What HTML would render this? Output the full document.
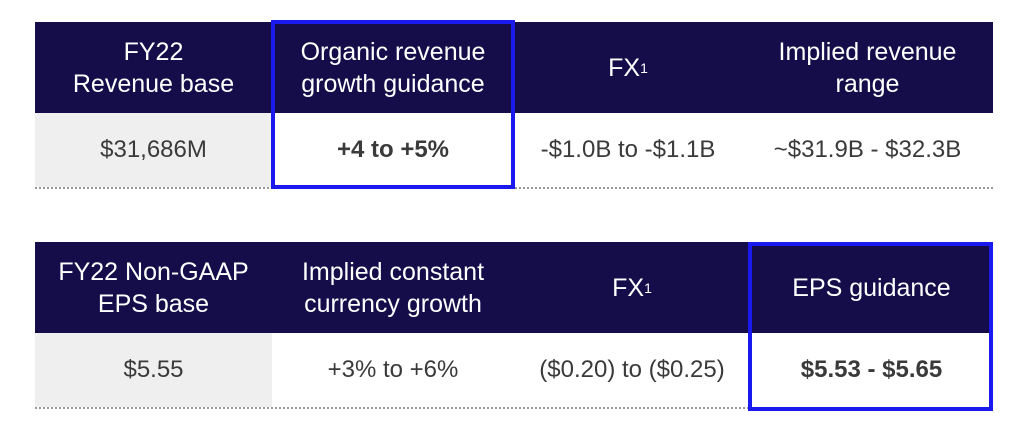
<!DOCTYPE html>
<html><head><meta charset="utf-8"><style>
body{margin:0;width:1031px;height:442px;background:#fff;position:relative;overflow:hidden;font-family:"Liberation Sans",sans-serif}
.a{position:absolute;box-sizing:border-box;display:flex;align-items:center;justify-content:center;text-align:center}
.h{background:#150d4a;color:#fff;font-size:25px;line-height:32px}
.c{color:#3a3a3a;font-size:24px}
.g{background:#efefef}
.b{font-weight:bold}
.dot{position:absolute;height:0;border-top:2px dotted #999}
.box{position:absolute;border:4px solid #1a1aee;box-sizing:border-box}
sup{font-size:14px;vertical-align:10px}
</style></head><body>
<div>
<div class="a h" style="left:35px;top:22px;width:237px;height:91px">FY22<br>Revenue base</div>
<div class="a h" style="left:272px;top:22px;width:242px;height:91px">Organic revenue<br>growth guidance</div>
<div class="a h" style="left:514px;top:22px;width:228px;height:91px">FX<sup>1</sup></div>
<div class="a h" style="left:742px;top:22px;width:251px;height:91px">Implied revenue<br>range</div>
<div class="a c g" style="left:35px;top:113px;width:237px;height:74px">$31,686M</div>
<div class="a c b" style="left:272px;top:113px;width:242px;height:74px">+4 to +5%</div>
<div class="a c" style="left:514px;top:113px;width:228px;height:74px">-$1.0B to -$1.1B</div>
<div class="a c" style="left:742px;top:113px;width:251px;height:74px">~$31.9B - $32.3B</div>
<div class="dot" style="left:35px;top:187px;width:958px"></div>
<div class="box" style="left:271px;top:20px;width:244px;height:169px"></div>
</div>
<div>
<div class="a h" style="left:35px;top:242px;width:237px;height:91px">FY22 Non-GAAP<br>EPS base</div>
<div class="a h" style="left:272px;top:242px;width:242px;height:91px">Implied constant<br>currency growth</div>
<div class="a h" style="left:514px;top:242px;width:236px;height:91px">FX<sup>1</sup></div>
<div class="a h" style="left:750px;top:242px;width:243px;height:91px">EPS guidance</div>
<div class="a c g" style="left:35px;top:333px;width:237px;height:74px">$5.55</div>
<div class="a c" style="left:272px;top:333px;width:242px;height:74px">+3% to +6%</div>
<div class="a c" style="left:514px;top:333px;width:236px;height:74px">($0.20) to ($0.25)</div>
<div class="a c b" style="left:750px;top:333px;width:243px;height:74px">$5.53 - $5.65</div>
<div class="dot" style="left:35px;top:407px;width:958px"></div>
<div class="box" style="left:748px;top:242px;width:245px;height:169px"></div>
</div>
</body></html>
